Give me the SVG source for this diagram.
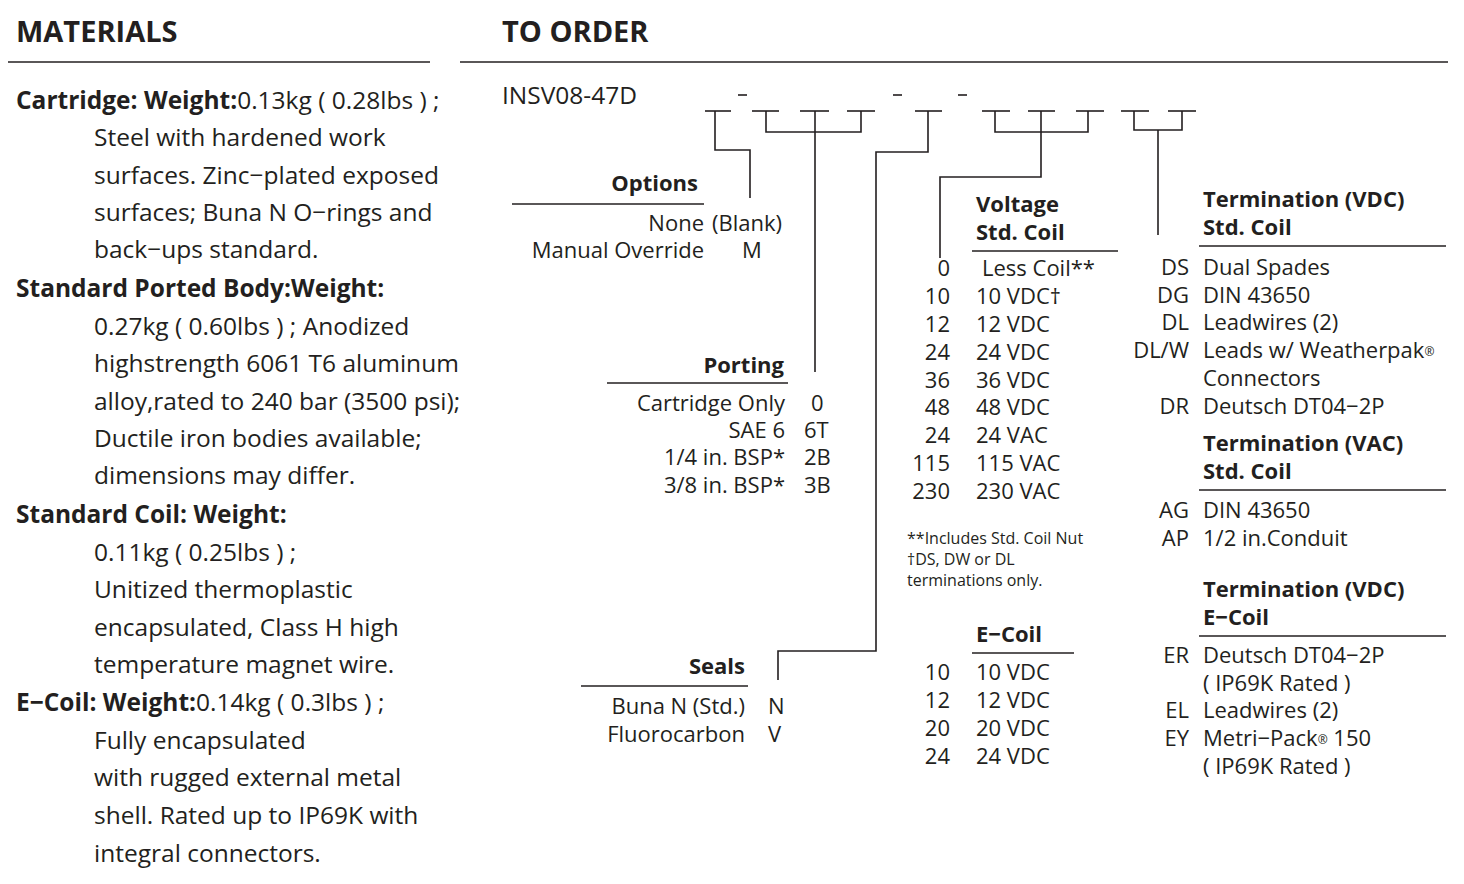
<svg xmlns="http://www.w3.org/2000/svg" width="1464" height="884" viewBox="0 0 1464 884">
<style>
text{font-family:"Open Sans","Liberation Sans",Arial,sans-serif;fill:#231f20}
.h{font-size:29px;font-weight:bold}
.b{font-size:24.5px}
.s{font-size:22px}
.t{font-size:22px;font-weight:bold}
.n{font-size:16px}
.bd{font-weight:bold}
.e{text-anchor:end}
line,polyline{stroke:#231f20;stroke-width:1.6;fill:none}
</style>
<rect width="1464" height="884" fill="#fff"/>
<g id="headers">
<text class="h" x="16" y="42">MATERIALS</text>
<text class="h" x="502" y="42">TO ORDER</text>
<line x1="8" y1="62" x2="430" y2="62"/>
<line x1="460" y1="62" x2="1448" y2="62"/>
</g>
<g id="materials" class="b">
<text x="16" y="109"><tspan class="bd">Cartridge: Weight:</tspan>0.13kg ( 0.28lbs ) ;</text>
<text x="94" y="146">Steel with hardened work</text>
<text x="94" y="184">surfaces. Zinc−plated exposed</text>
<text x="94" y="221">surfaces; Buna N O−rings and</text>
<text x="94" y="258">back−ups standard.</text>
<text x="16" y="297" class="bd">Standard Ported Body:Weight:</text>
<text x="94" y="335">0.27kg ( 0.60lbs ) ;  Anodized</text>
<text x="94" y="372">highstrength 6061 T6 aluminum</text>
<text x="94" y="410">alloy,rated to 240 bar (3500 psi);</text>
<text x="94" y="447">Ductile iron bodies available;</text>
<text x="94" y="484">dimensions may differ.</text>
<text x="16" y="523" class="bd">Standard Coil:  Weight:</text>
<text x="94" y="561">0.11kg (  0.25lbs ) ;</text>
<text x="94" y="598">Unitized thermoplastic</text>
<text x="94" y="636">encapsulated, Class H high</text>
<text x="94" y="673">temperature magnet wire.</text>
<text x="16" y="711"><tspan class="bd">E−Coil:  Weight:</tspan>0.14kg ( 0.3lbs ) ;</text>
<text x="94" y="749">Fully encapsulated</text>
<text x="94" y="786">with rugged external metal</text>
<text x="94" y="824">shell. Rated up to IP69K with</text>
<text x="94" y="862">integral connectors.</text>
</g>
<g id="model">
<text class="b" x="502" y="104">INSV08-47D</text>
<line x1="705" y1="111" x2="731" y2="111"/><line x1="752" y1="111" x2="779" y2="111"/>
<line x1="800" y1="111" x2="829" y2="111"/><line x1="847" y1="111" x2="875" y2="111"/>
<line x1="915" y1="111" x2="942" y2="111"/><line x1="982" y1="111" x2="1010" y2="111"/>
<line x1="1028" y1="111" x2="1055" y2="111"/><line x1="1076" y1="111" x2="1104" y2="111"/>
<line x1="1121" y1="111" x2="1149" y2="111"/><line x1="1168" y1="111" x2="1196" y2="111"/>
<line x1="738" y1="95" x2="747" y2="95"/><line x1="893" y1="95" x2="902" y2="95"/><line x1="958" y1="95" x2="967" y2="95"/>
</g>
<g id="connectors">
<polyline points="715,111 715,150 750,150 750,198"/>
<polyline points="766,111 766,132 861,132 861,111"/>
<line x1="815" y1="111" x2="815" y2="372"/>
<polyline points="928,111 928,152 876,152 876,651 778,651 778,680"/>
<polyline points="995,111 995,132 1088,132 1088,111"/>
<polyline points="1041,111 1041,177 940,177 940,258"/>
<polyline points="1134,111 1134,130 1182,130 1182,111"/>
<line x1="1158" y1="130" x2="1158" y2="235"/>
</g>
<g id="options" class="s">
<text class="t e" x="698" y="191">Options</text>
<line x1="512" y1="204" x2="704" y2="204"/>
<text class="e" x="704" y="231">None</text><text x="712" y="231">(Blank)</text>
<text class="e" x="704" y="258">Manual Override</text><text x="742" y="258">M</text>
</g>
<g id="porting" class="s">
<text class="t e" x="784" y="373">Porting</text>
<line x1="607" y1="383" x2="788" y2="383"/>
<text class="e" x="785" y="411">Cartridge Only</text><text x="811" y="411">0</text>
<text class="e" x="785" y="438">SAE 6</text><text x="804" y="438">6T</text>
<text class="e" x="785" y="465">1/4 in. BSP*</text><text x="804" y="465">2B</text>
<text class="e" x="785" y="493">3/8 in. BSP*</text><text x="804" y="493">3B</text>
</g>
<g id="seals" class="s">
<text class="t e" x="745" y="674">Seals</text>
<line x1="581" y1="686" x2="748" y2="686"/>
<text class="e" x="745" y="714">Buna N (Std.)</text><text x="768" y="714">N</text>
<text class="e" x="745" y="742">Fluorocarbon</text><text x="768" y="742">V</text>
</g>
<g id="voltage" class="s">
<text class="t" x="976" y="212">Voltage</text>
<text class="t" x="976" y="240">Std. Coil</text>
<line x1="972" y1="251" x2="1118" y2="251"/>
<text class="e" x="950" y="276">0</text><text x="982" y="276">Less Coil**</text>
<text class="e" x="950" y="304">10</text><text x="976" y="304">10 VDC†</text>
<text class="e" x="950" y="332">12</text><text x="976" y="332">12 VDC</text>
<text class="e" x="950" y="360">24</text><text x="976" y="360">24 VDC</text>
<text class="e" x="950" y="388">36</text><text x="976" y="388">36 VDC</text>
<text class="e" x="950" y="415">48</text><text x="976" y="415">48 VDC</text>
<text class="e" x="950" y="443">24</text><text x="976" y="443">24 VAC</text>
<text class="e" x="950" y="471">115</text><text x="976" y="471">115 VAC</text>
<text class="e" x="950" y="499">230</text><text x="976" y="499">230 VAC</text>
<text class="n" x="907" y="544">**Includes Std. Coil Nut</text>
<text class="n" x="907" y="565">†DS, DW or DL</text>
<text class="n" x="907" y="586">terminations only.</text>
</g>
<g id="ecoil" class="s">
<text class="t" x="976" y="642">E−Coil</text>
<line x1="972" y1="653" x2="1074" y2="653"/>
<text class="e" x="950" y="680">10</text><text x="976" y="680">10 VDC</text>
<text class="e" x="950" y="708">12</text><text x="976" y="708">12 VDC</text>
<text class="e" x="950" y="736">20</text><text x="976" y="736">20 VDC</text>
<text class="e" x="950" y="764">24</text><text x="976" y="764">24 VDC</text>
</g>
<g id="termination" class="s">
<text class="t" x="1203" y="207">Termination (VDC)</text>
<text class="t" x="1203" y="235">Std. Coil</text>
<line x1="1199" y1="246" x2="1446" y2="246"/>
<text class="e" x="1189" y="275">DS</text><text x="1203" y="275">Dual Spades</text>
<text class="e" x="1189" y="303">DG</text><text x="1203" y="303">DIN 43650</text>
<text class="e" x="1189" y="330">DL</text><text x="1203" y="330">Leadwires (2)</text>
<text class="e" x="1189" y="358">DL/W</text><text x="1203" y="358">Leads w/ Weatherpak<tspan font-size="12" dy="-2">®</tspan></text>
<text x="1203" y="386">Connectors</text>
<text class="e" x="1189" y="414">DR</text><text x="1203" y="414">Deutsch DT04−2P</text>
<text class="t" x="1203" y="451">Termination (VAC)</text>
<text class="t" x="1203" y="479">Std. Coil</text>
<line x1="1199" y1="490" x2="1446" y2="490"/>
<text class="e" x="1189" y="518">AG</text><text x="1203" y="518">DIN 43650</text>
<text class="e" x="1189" y="546">AP</text><text x="1203" y="546">1/2 in.Conduit</text>
<text class="t" x="1203" y="597">Termination (VDC)</text>
<text class="t" x="1203" y="625">E−Coil</text>
<line x1="1199" y1="636" x2="1446" y2="636"/>
<text class="e" x="1189" y="663">ER</text><text x="1203" y="663">Deutsch DT04−2P</text>
<text x="1203" y="691">( IP69K Rated )</text>
<text class="e" x="1189" y="718">EL</text><text x="1203" y="718">Leadwires (2)</text>
<text class="e" x="1189" y="746">EY</text><text x="1203" y="746">Metri−Pack<tspan font-size="12" dy="-2">®</tspan><tspan dy="2"> 150</tspan></text>
<text x="1203" y="774">( IP69K Rated )</text>
</g>
</svg>
